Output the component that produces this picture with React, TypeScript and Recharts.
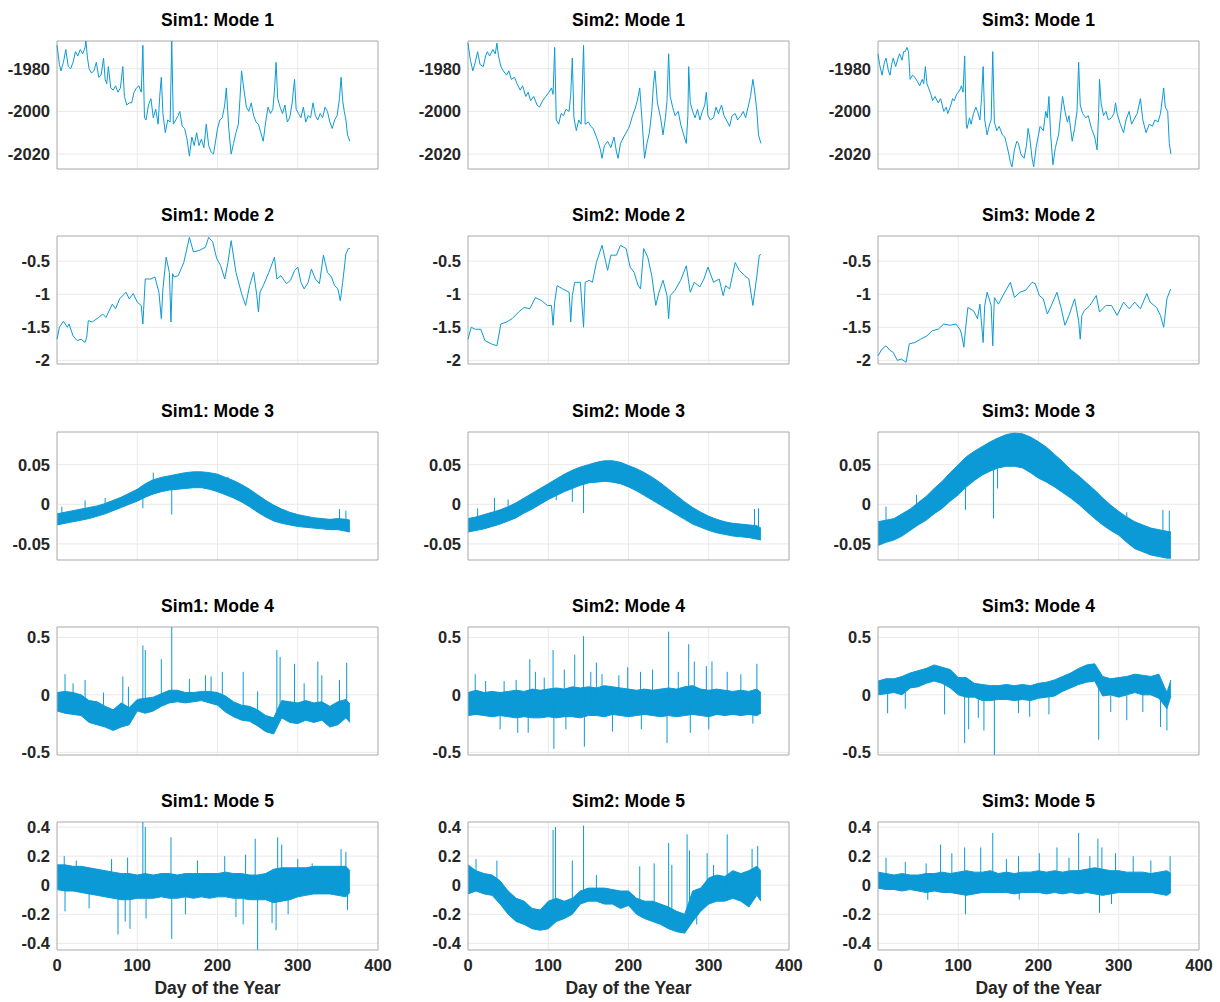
import React from 'react';
import { ComposedChart, Line, Area, XAxis, YAxis, CartesianGrid, ReferenceArea } from 'recharts';

// ---- data ----

// Mode 1 & 2: [day, value]
const s1m1 = [[0,-1969],[3,-1978],[5,-1981],[8,-1977],[11,-1971],[14,-1979],[17,-1980],[20,-1977],[23,-1972],[26,-1974],[29,-1971],[32,-1973],[35,-1970],[36,-1967],[38,-1975],[40,-1980],[43,-1982],[46,-1981],[49,-1977],[52,-1984],[55,-1983],[58,-1975],[60,-1985],[62,-1987],[64,-1979],[67,-1989],[70,-1990],[73,-1988],[76,-1991],[79,-1989],[82,-1979],[84,-1993],[87,-1997],[90,-1996],[93,-1996],[96,-1991],[99,-1989],[102,-1988],[105,-1991],[107,-1969],[109,-2003],[111,-2004],[114,-1997],[117,-1994],[120,-2003],[123,-1999],[126,-2006],[128,-1993],[130,-1984],[132,-2001],[135,-2010],[138,-2004],[141,-2005],[143,-1967],[145,-2006],[148,-2004],[151,-2002],[153,-2000],[156,-2007],[159,-2008],[162,-2013],[165,-2021],[168,-2012],[171,-2016],[174,-2010],[177,-2016],[180,-2013],[183,-2017],[186,-2006],[189,-2016],[192,-2019],[195,-2020],[198,-2013],[200,-2008],[203,-2004],[206,-2003],[209,-1997],[211,-1989],[214,-2008],[217,-2020],[220,-2015],[223,-2010],[226,-2006],[228,-1994],[230,-1981],[233,-1990],[236,-1998],[239,-2000],[242,-1996],[245,-2002],[248,-2005],[251,-2006],[254,-2010],[257,-2014],[260,-2005],[263,-1998],[266,-2001],[269,-1999],[271,-1990],[273,-1977],[275,-1994],[278,-1998],[281,-2001],[284,-1997],[287,-2005],[290,-2003],[293,-1996],[296,-1985],[298,-1999],[301,-2001],[304,-2003],[307,-1998],[310,-2005],[313,-2002],[316,-2003],[319,-1996],[322,-2002],[325,-2004],[328,-2001],[331,-2003],[334,-1998],[337,-2000],[340,-2005],[343,-2008],[346,-2004],[349,-2002],[352,-1994],[354,-1984],[356,-1995],[358,-2000],[360,-2004],[362,-2011],[365,-2014]];
const s2m1 = [[0,-1968],[3,-1976],[6,-1981],[9,-1977],[12,-1972],[15,-1978],[19,-1979],[22,-1974],[24,-1972],[27,-1974],[31,-1971],[34,-1973],[36,-1968],[38,-1974],[41,-1979],[44,-1981],[48,-1983],[51,-1981],[54,-1985],[58,-1984],[61,-1987],[65,-1990],[68,-1988],[72,-1993],[75,-1991],[78,-1995],[82,-1993],[86,-1997],[89,-1998],[93,-1995],[97,-1993],[101,-1991],[104,-1989],[106,-1992],[108,-1970],[110,-2004],[113,-2006],[116,-2001],[119,-2002],[122,-1999],[126,-2000],[128,-1992],[130,-1975],[132,-2003],[135,-2009],[138,-2004],[141,-2006],[144,-1969],[146,-2006],[150,-2005],[153,-2007],[156,-2008],[159,-2011],[162,-2014],[165,-2018],[167,-2022],[170,-2016],[174,-2014],[178,-2017],[182,-2012],[185,-2019],[187,-2022],[190,-2015],[194,-2012],[197,-2010],[200,-2008],[202,-2006],[205,-2002],[208,-1999],[211,-1995],[214,-1989],[217,-2005],[220,-2022],[223,-2015],[226,-2010],[229,-2000],[231,-1988],[233,-1981],[236,-1996],[240,-2003],[243,-2011],[246,-2003],[248,-1995],[250,-1973],[252,-1993],[255,-1998],[258,-2002],[262,-2000],[265,-2006],[268,-2010],[272,-2015],[274,-2002],[275,-1979],[277,-1996],[280,-2000],[283,-2003],[286,-1999],[289,-2004],[292,-2000],[295,-1997],[297,-1991],[299,-2002],[302,-2004],[306,-2003],[309,-1998],[312,-2001],[316,-1997],[319,-2002],[322,-2004],[326,-2007],[329,-2002],[333,-2001],[336,-2004],[340,-2002],[343,-2000],[346,-2003],[349,-1998],[352,-1993],[355,-1985],[357,-1990],[360,-2000],[362,-2011],[365,-2015]];
const s3m1 = [[0,-1973],[2,-1978],[5,-1983],[8,-1977],[10,-1975],[13,-1981],[15,-1983],[17,-1978],[19,-1975],[22,-1979],[25,-1975],[27,-1973],[30,-1976],[32,-1972],[34,-1972],[36,-1970],[38,-1972],[40,-1985],[43,-1983],[46,-1984],[49,-1986],[52,-1988],[55,-1985],[57,-1987],[59,-1979],[61,-1987],[63,-1989],[66,-1992],[68,-1995],[71,-1993],[75,-1996],[78,-1994],[82,-2000],[85,-1998],[87,-2001],[90,-1998],[93,-1994],[95,-1995],[98,-1992],[102,-1990],[104,-1988],[106,-1991],[108,-1974],[110,-2006],[111,-2008],[114,-2003],[116,-2006],[119,-2001],[122,-1998],[124,-2000],[127,-2004],[129,-1994],[131,-1979],[133,-2004],[136,-2011],[139,-2006],[141,-2004],[143,-1972],[145,-2005],[148,-2009],[151,-2007],[155,-2011],[158,-2012],[160,-2015],[163,-2020],[165,-2024],[167,-2026],[170,-2018],[173,-2014],[175,-2015],[178,-2020],[182,-2022],[185,-2016],[187,-2008],[189,-2012],[192,-2022],[194,-2026],[197,-2017],[199,-2013],[202,-2007],[206,-2009],[209,-2000],[211,-2003],[213,-1993],[215,-2010],[218,-2025],[221,-2017],[225,-2011],[228,-2000],[230,-1993],[233,-2000],[236,-2005],[238,-2002],[242,-2014],[245,-2008],[248,-2000],[250,-1977],[252,-1997],[255,-2001],[259,-2003],[262,-2002],[266,-2008],[270,-2012],[273,-2018],[275,-2000],[276,-1985],[278,-1996],[281,-2002],[284,-2000],[287,-2004],[291,-2003],[294,-2001],[296,-1996],[298,-2001],[302,-2006],[306,-2010],[309,-2004],[313,-2000],[316,-2006],[320,-2003],[323,-2001],[327,-1994],[330,-2004],[334,-2010],[338,-2006],[342,-2007],[345,-2004],[349,-2005],[352,-2001],[354,-1995],[356,-1989],[358,-1998],[361,-2000],[363,-2015],[365,-2020]];

const s1m2 = [[0,-1.68],[3,-1.5],[8,-1.41],[13,-1.5],[15,-1.45],[20,-1.63],[25,-1.7],[30,-1.68],[35,-1.73],[37,-1.65],[39,-1.4],[44,-1.42],[52,-1.35],[57,-1.3],[61,-1.35],[69,-1.15],[73,-1.22],[78,-1.07],[86,-0.97],[90,-1.07],[95,-0.99],[100,-1.12],[105,-1.17],[107,-1.45],[110,-0.77],[117,-0.77],[122,-0.74],[127,-0.97],[130,-1.37],[132,-0.92],[136,-0.44],[140,-0.67],[142,-1.42],[144,-0.69],[146,-0.74],[151,-0.72],[158,-0.52],[165,-0.14],[170,-0.36],[177,-0.34],[185,-0.29],[189,-0.14],[194,-0.21],[199,-0.46],[204,-0.57],[209,-0.77],[213,-0.52],[217,-0.19],[223,-0.67],[230,-0.99],[235,-1.17],[240,-0.87],[245,-0.67],[249,-1.02],[251,-1.27],[253,-0.97],[257,-0.87],[264,-0.67],[271,-0.44],[274,-0.77],[279,-0.72],[286,-0.84],[291,-0.79],[296,-0.64],[300,-0.59],[304,-0.82],[308,-0.92],[313,-0.82],[317,-0.62],[322,-0.77],[327,-0.84],[332,-0.41],[337,-0.67],[342,-0.74],[346,-0.87],[350,-0.92],[353,-1.1],[356,-0.82],[360,-0.39],[363,-0.31],[365,-0.31]];
const s2m2 = [[0,-1.68],[4,-1.5],[9,-1.53],[16,-1.53],[21,-1.7],[29,-1.75],[36,-1.78],[41,-1.45],[48,-1.42],[55,-1.37],[63,-1.27],[70,-1.2],[77,-1.22],[84,-1.05],[92,-1.1],[99,-1.17],[104,-1.17],[106,-1.47],[108,-1.12],[111,-0.87],[118,-0.92],[126,-0.97],[128,-1.42],[130,-1.02],[133,-0.82],[140,-0.82],[144,-1.5],[146,-0.82],[151,-0.79],[155,-0.82],[160,-0.52],[167,-0.26],[174,-0.64],[178,-0.41],[185,-0.41],[190,-0.26],[197,-0.31],[202,-0.59],[207,-0.67],[212,-0.87],[215,-0.92],[219,-0.31],[224,-0.44],[229,-0.72],[234,-1.17],[238,-0.97],[243,-0.79],[248,-1.02],[250,-1.37],[252,-1.02],[258,-0.94],[265,-0.79],[272,-0.57],[277,-0.97],[282,-0.82],[289,-0.89],[294,-0.77],[299,-0.59],[306,-0.82],[313,-0.77],[318,-1.02],[321,-0.87],[326,-0.92],[333,-0.52],[338,-0.64],[345,-0.72],[350,-0.77],[355,-1.17],[360,-0.72],[363,-0.41],[365,-0.4]];
const s3m2 = [[0,-1.93],[5,-1.83],[10,-1.78],[15,-1.85],[19,-1.88],[24,-2.0],[29,-1.98],[35,-2.03],[39,-1.75],[46,-1.73],[53,-1.68],[61,-1.63],[68,-1.55],[75,-1.53],[82,-1.45],[90,-1.47],[97,-1.45],[102,-1.53],[104,-1.6],[107,-1.8],[109,-1.53],[112,-1.2],[119,-1.25],[124,-1.37],[127,-1.15],[131,-1.73],[133,-1.17],[136,-0.97],[141,-1.17],[143,-1.78],[145,-1.05],[150,-1.15],[158,-0.97],[165,-0.82],[170,-1.05],[177,-0.97],[184,-0.94],[192,-0.82],[196,-0.84],[201,-1.02],[206,-1.07],[211,-1.3],[216,-1.17],[223,-0.97],[228,-1.2],[233,-1.47],[238,-1.32],[245,-1.07],[250,-1.4],[252,-1.68],[254,-1.32],[257,-1.25],[264,-1.17],[272,-1.02],[276,-1.27],[284,-1.17],[291,-1.17],[298,-1.32],[306,-1.12],[313,-1.22],[320,-1.12],[327,-1.22],[335,-0.99],[339,-1.12],[347,-1.2],[352,-1.32],[356,-1.5],[360,-1.07],[364,-0.94],[365,-0.92]];

// Modes 3-5: envelope of the dense traces, every 10 days
const bandDays = [0,10,20,30,40,50,60,70,80,90,100,110,120,130,140,150,160,170,180,190,200,210,220,230,240,250,260,270,280,290,300,310,320,330,340,350,360,365];

const s1m3Hi = [-0.012,-0.010,-0.008,-0.006,-0.004,-0.002,0.001,0.005,0.009,0.014,0.019,0.026,0.031,0.034,0.036,0.038,0.040,0.041,0.041,0.040,0.038,0.034,0.030,0.025,0.019,0.012,0.005,-0.001,-0.006,-0.010,-0.013,-0.015,-0.017,-0.018,-0.019,-0.018,-0.019,-0.020];
const s1m3Lo = [-0.026,-0.024,-0.022,-0.020,-0.018,-0.015,-0.012,-0.008,-0.004,0.000,0.004,0.009,0.013,0.016,0.018,0.019,0.020,0.021,0.021,0.019,0.016,0.012,0.008,0.003,-0.003,-0.010,-0.016,-0.021,-0.024,-0.026,-0.028,-0.029,-0.030,-0.031,-0.032,-0.032,-0.034,-0.035];
const s2m3Hi = [-0.018,-0.016,-0.013,-0.010,-0.007,-0.003,0.002,0.008,0.014,0.020,0.026,0.032,0.038,0.043,0.047,0.050,0.053,0.055,0.055,0.053,0.049,0.045,0.040,0.034,0.027,0.019,0.011,0.003,-0.004,-0.010,-0.015,-0.019,-0.022,-0.024,-0.025,-0.026,-0.027,-0.030];
const s2m3Lo = [-0.035,-0.033,-0.031,-0.028,-0.025,-0.021,-0.017,-0.011,-0.006,0.000,0.006,0.011,0.016,0.020,0.024,0.027,0.028,0.029,0.028,0.026,0.022,0.017,0.011,0.005,-0.001,-0.007,-0.013,-0.019,-0.025,-0.029,-0.033,-0.036,-0.038,-0.040,-0.041,-0.042,-0.044,-0.045];
const s3m3Hi = [-0.022,-0.020,-0.018,-0.012,-0.006,0.002,0.010,0.020,0.029,0.040,0.050,0.060,0.067,0.073,0.079,0.084,0.088,0.090,0.089,0.085,0.079,0.072,0.063,0.054,0.044,0.036,0.027,0.018,0.008,-0.001,-0.009,-0.016,-0.022,-0.026,-0.030,-0.032,-0.034,-0.035];
const s3m3Lo = [-0.052,-0.048,-0.045,-0.040,-0.033,-0.026,-0.020,-0.012,-0.005,0.004,0.012,0.022,0.030,0.037,0.042,0.046,0.048,0.048,0.046,0.040,0.033,0.028,0.022,0.015,0.008,0.000,-0.009,-0.018,-0.026,-0.033,-0.039,-0.048,-0.056,-0.060,-0.064,-0.066,-0.068,-0.068];

const s1m4Hi = [0.02,0.03,0.02,0.00,-0.05,-0.06,-0.10,-0.13,-0.07,-0.11,-0.04,-0.03,-0.02,0.01,0.04,0.04,0.02,0.02,0.03,0.03,0.02,-0.01,-0.06,-0.09,-0.10,-0.13,-0.18,-0.20,-0.05,-0.06,-0.07,-0.05,-0.07,-0.06,-0.10,-0.06,-0.04,-0.08];
const s1m4Lo = [-0.14,-0.16,-0.17,-0.18,-0.24,-0.26,-0.28,-0.31,-0.28,-0.26,-0.14,-0.16,-0.14,-0.10,-0.07,-0.06,-0.07,-0.06,-0.05,-0.07,-0.09,-0.15,-0.19,-0.22,-0.23,-0.27,-0.32,-0.34,-0.20,-0.24,-0.25,-0.22,-0.24,-0.22,-0.28,-0.26,-0.20,-0.24];
const s2m4Hi = [0.02,0.04,0.02,0.03,0.02,0.03,0.04,0.03,0.05,0.04,0.05,0.06,0.05,0.07,0.06,0.07,0.06,0.08,0.07,0.06,0.05,0.04,0.05,0.04,0.05,0.06,0.05,0.07,0.08,0.05,0.04,0.05,0.04,0.03,0.04,0.03,0.05,0.02];
const s2m4Lo = [-0.18,-0.17,-0.18,-0.19,-0.18,-0.19,-0.20,-0.19,-0.20,-0.20,-0.19,-0.20,-0.19,-0.19,-0.20,-0.18,-0.18,-0.19,-0.17,-0.18,-0.19,-0.18,-0.17,-0.18,-0.19,-0.18,-0.19,-0.18,-0.17,-0.18,-0.19,-0.17,-0.18,-0.17,-0.18,-0.17,-0.18,-0.16];
const s3m4Hi = [0.12,0.14,0.14,0.16,0.19,0.21,0.23,0.26,0.24,0.22,0.15,0.15,0.10,0.09,0.08,0.08,0.09,0.08,0.09,0.08,0.10,0.11,0.13,0.16,0.19,0.23,0.26,0.27,0.16,0.14,0.15,0.16,0.18,0.17,0.16,0.18,0.02,0.13];
const s3m4Lo = [0.00,0.01,0.02,0.00,0.06,0.07,0.10,0.12,0.10,0.06,0.00,-0.02,-0.02,-0.05,-0.05,-0.04,-0.04,-0.05,-0.04,-0.05,-0.03,-0.02,-0.01,0.03,0.06,0.09,0.11,0.12,-0.01,0.00,-0.02,0.00,0.02,0.00,0.00,-0.03,-0.12,-0.01];

const s1m5Hi = [0.14,0.14,0.13,0.13,0.12,0.11,0.10,0.09,0.08,0.08,0.07,0.08,0.07,0.08,0.08,0.07,0.08,0.08,0.08,0.08,0.08,0.09,0.08,0.08,0.07,0.07,0.08,0.11,0.12,0.12,0.12,0.12,0.13,0.13,0.13,0.13,0.13,0.10];
const s1m5Lo = [-0.03,-0.04,-0.04,-0.05,-0.06,-0.07,-0.08,-0.09,-0.10,-0.10,-0.09,-0.09,-0.09,-0.08,-0.09,-0.09,-0.08,-0.09,-0.08,-0.09,-0.08,-0.08,-0.09,-0.09,-0.10,-0.10,-0.10,-0.12,-0.11,-0.10,-0.08,-0.07,-0.06,-0.06,-0.06,-0.07,-0.08,-0.05];
const s2m5Hi = [0.14,0.10,0.08,0.07,0.03,-0.04,-0.09,-0.11,-0.16,-0.17,-0.11,-0.09,-0.11,-0.09,-0.04,-0.02,-0.02,-0.02,-0.03,-0.04,-0.04,-0.09,-0.11,-0.11,-0.13,-0.15,-0.18,-0.20,-0.04,-0.02,0.05,0.07,0.06,0.10,0.08,0.10,0.13,0.10];
const s2m5Lo = [-0.06,-0.04,-0.06,-0.07,-0.13,-0.20,-0.25,-0.27,-0.30,-0.31,-0.30,-0.25,-0.23,-0.20,-0.13,-0.11,-0.11,-0.13,-0.13,-0.16,-0.14,-0.20,-0.23,-0.25,-0.27,-0.30,-0.32,-0.33,-0.25,-0.18,-0.13,-0.11,-0.11,-0.09,-0.11,-0.15,-0.07,-0.11];
const s3m5Hi = [0.09,0.08,0.07,0.08,0.07,0.07,0.08,0.08,0.09,0.08,0.09,0.10,0.09,0.09,0.10,0.08,0.09,0.08,0.09,0.09,0.10,0.09,0.10,0.09,0.10,0.10,0.11,0.12,0.11,0.10,0.10,0.09,0.09,0.09,0.08,0.09,0.10,0.08];
const s3m5Lo = [-0.02,-0.03,-0.03,-0.04,-0.03,-0.04,-0.05,-0.04,-0.05,-0.05,-0.06,-0.07,-0.06,-0.05,-0.05,-0.05,-0.05,-0.06,-0.05,-0.05,-0.05,-0.06,-0.05,-0.06,-0.05,-0.06,-0.05,-0.06,-0.07,-0.06,-0.05,-0.05,-0.05,-0.05,-0.05,-0.06,-0.07,-0.05];

// isolated spikes: [day, from, to]
const s1m3Spikes = [[6,-0.018,-0.003],[35,-0.012,0.005],[60,-0.005,0.008],[107,0.012,-0.005],[120,0.02,0.04],[143,0.025,-0.013],[213,0.02,0.035],[276,-0.018,-0.004],[352,-0.025,-0.006],[360,-0.026,-0.008]];
const s2m3Spikes = [[12,-0.025,-0.005],[33,-0.02,0.008],[50,-0.012,0.006],[110,0.02,0.005],[130,0.03,0.003],[144,0.035,-0.011],[357,-0.035,-0.006],[362,-0.036,-0.005]];
const s3m3Spikes = [[10,-0.035,-0.003],[48,-0.015,0.012],[109,0.03,-0.007],[144,0.055,-0.018],[149,0.055,0.02],[310,-0.03,-0.01],[355,-0.05,-0.007],[363,-0.052,-0.008]];
const s1m4Spikes = [[10,-0.05,0.18],[20,-0.06,0.1],[35,-0.07,0.13],[58,-0.15,0.02],[82,-0.15,0.16],[89,-0.17,0.07],[107,-0.08,0.43],[110,-0.08,0.39],[130,-0.05,0.31],[143,-0.02,0.59],[165,-0.03,0.14],[185,-0.02,0.17],[192,-0.02,0.16],[206,-0.05,0.2],[232,-0.14,0.2],[250,-0.18,0.03],[274,-0.2,0.39],[278,-0.15,0.33],[296,-0.15,0.27],[308,-0.12,0.1],[325,-0.14,0.29],[330,-0.15,0.17],[352,-0.15,0.13],[361,-0.12,0.28]];
const s2m4Spikes = [[9,-0.06,0.18],[22,-0.06,0.12],[40,-0.07,-0.3],[45,-0.06,0.12],[60,-0.06,0.13],[62,-0.08,-0.33],[75,-0.08,-0.33],[77,-0.06,0.31],[84,-0.06,0.2],[95,-0.06,0.15],[106,-0.06,0.39],[107,-0.08,-0.47],[120,-0.06,0.22],[122,-0.08,-0.3],[133,-0.06,0.35],[144,-0.06,0.51],[145,-0.08,-0.45],[153,-0.06,0.2],[160,-0.06,0.28],[167,-0.06,0.18],[180,-0.08,-0.32],[188,-0.06,0.17],[199,-0.06,0.24],[215,-0.06,0.2],[216,-0.08,-0.3],[230,-0.06,0.22],[248,-0.08,-0.42],[250,-0.06,0.55],[262,-0.06,0.2],[275,-0.06,0.44],[277,-0.08,-0.33],[282,-0.06,0.29],[297,-0.06,0.25],[300,-0.08,-0.3],[304,-0.06,0.29],[323,-0.06,0.2],[340,-0.06,0.18],[355,-0.08,-0.25],[360,-0.06,0.27]];
const s3m4Spikes = [[12,0.05,-0.16],[34,0.05,-0.12],[83,0.12,-0.17],[108,0.08,-0.42],[113,0.05,-0.3],[125,0.03,-0.2],[132,0.03,-0.31],[145,0.02,-0.53],[175,0.02,-0.16],[189,0.02,-0.19],[213,0.05,-0.17],[275,0.15,-0.39],[290,0.05,-0.15],[310,0.05,-0.22],[330,0.05,-0.15],[352,0.05,-0.28],[360,-0.05,-0.31]];
const s1m5Spikes = [[9,0.02,0.2],[10,0,-0.18],[24,0.02,0.17],[40,0,-0.16],[68,0,0.18],[76,0,-0.34],[85,0,-0.25],[88,0,0.19],[91,0,-0.3],[107,0,0.44],[110,0,0.4],[111,0,-0.23],[142,0,0.33],[143,0,-0.37],[160,0,-0.2],[175,0,0.17],[209,0,0.2],[223,0,-0.22],[232,0,-0.27],[235,0,0.21],[247,0,0.32],[250,0,-0.45],[268,0,-0.26],[273,0,-0.31],[275,0,0.33],[280,0,0.28],[288,0,-0.2],[300,0.02,0.18],[318,0.02,0.15],[354,0.02,0.25],[360,0.02,0.23],[362,0,-0.17]];
const s2m5Spikes = [[10,0.02,0.18],[36,-0.03,0.17],[106,-0.2,0.38],[109,-0.2,0.4],[130,-0.15,0.17],[144,-0.1,0.41],[160,-0.07,0.07],[214,-0.15,0.13],[232,-0.18,0.15],[250,-0.22,0.29],[254,-0.22,0.14],[273,-0.28,0.35],[276,-0.25,0.24],[285,-0.15,-0.27],[298,-0.05,0.22],[306,-0.05,0.14],[323,-0.02,0.35],[354,0,0.25],[361,0,0.27]];
const s3m5Spikes = [[10,0.02,0.19],[34,0.02,0.16],[60,0.02,0.15],[62,0,-0.1],[78,0.02,0.28],[92,0.02,0.22],[108,0.02,0.26],[109,0,-0.2],[128,0.02,0.26],[143,0.02,0.36],[160,0.02,0.18],[175,0.02,0.2],[176,0,-0.1],[201,0.02,0.22],[223,0.02,0.26],[238,0.02,0.19],[250,0.02,0.36],[264,0.02,0.2],[274,0.02,0.32],[276,0,-0.19],[279,0.02,0.26],[291,0,-0.13],[296,0.02,0.22],[318,0.02,0.2],[340,0.02,0.17],[364,0.02,0.2]];

// y limits / ticks per row (shared across the three sims)
const rowDomains: [number, number][] = [[-2027, -1967], [-2.055, -0.12], [-0.0703, 0.0913], [-0.523, 0.59], [-0.446, 0.435]];
const rowTicks = [[-2020, -2000, -1980], [-2, -1.5, -1, -0.5], [-0.05, 0, 0.05], [-0.5, 0, 0.5], [-0.4, -0.2, 0, 0.2, 0.4]];
const xTicks = [0, 100, 200, 300, 400];

// ---- layout ----
const BLUE = '#0b9ad6';
const FONT = '"Liberation Sans", Arial, Helvetica, sans-serif';
const COL_X = [57, 468, 878];
const ROW_Y = [41, 236, 432, 627, 822];
const PLOT_W = 321;
const PLOT_H = 128;
const AXIS_W = 57;
const PAD = 12; // room so edge tick labels are not clipped

const toLine = (pts: number[][]) => pts.map(([d, v]) => ({ d, v }));
const toBand = (lo: number[], hi: number[]) => bandDays.map((d, i) => ({ d, band: [lo[i], hi[i]] }));
const toSpikes = (sp: number[][]) => sp.flatMap(([d, a, b]) => [{ d, s: a }, { d, s: b }, { d, s: null }]);

const tickStyle = { fontSize: 16.5, fontWeight: 700, fill: '#262626', fontFamily: FONT };

type PanelDef = {
  sim: number;
  mode: number;
  line?: number[][];
  lo?: number[];
  hi?: number[];
  spikes?: number[][];
};

const panels: PanelDef[] = [
  { sim: 1, mode: 1, line: s1m1 },
  { sim: 2, mode: 1, line: s2m1 },
  { sim: 3, mode: 1, line: s3m1 },
  { sim: 1, mode: 2, line: s1m2 },
  { sim: 2, mode: 2, line: s2m2 },
  { sim: 3, mode: 2, line: s3m2 },
  { sim: 1, mode: 3, lo: s1m3Lo, hi: s1m3Hi, spikes: s1m3Spikes },
  { sim: 2, mode: 3, lo: s2m3Lo, hi: s2m3Hi, spikes: s2m3Spikes },
  { sim: 3, mode: 3, lo: s3m3Lo, hi: s3m3Hi, spikes: s3m3Spikes },
  { sim: 1, mode: 4, lo: s1m4Lo, hi: s1m4Hi, spikes: s1m4Spikes },
  { sim: 2, mode: 4, lo: s2m4Lo, hi: s2m4Hi, spikes: s2m4Spikes },
  { sim: 3, mode: 4, lo: s3m4Lo, hi: s3m4Hi, spikes: s3m4Spikes },
  { sim: 1, mode: 5, lo: s1m5Lo, hi: s1m5Hi, spikes: s1m5Spikes },
  { sim: 2, mode: 5, lo: s2m5Lo, hi: s2m5Hi, spikes: s2m5Spikes },
  { sim: 3, mode: 5, lo: s3m5Lo, hi: s3m5Hi, spikes: s3m5Spikes },
];

const Panel: React.FC<{ def: PanelDef }> = ({ def }) => {
  const row = def.mode - 1;
  const col = def.sim - 1;
  const left = COL_X[col];
  const top = ROW_Y[row];
  const bottom = row === 4;
  const domain = rowDomains[row];
  const data = def.line ? toLine(def.line) : toBand(def.lo!, def.hi!);

  return (
    <>
      <div
        style={{
          position: 'absolute', left, top: top - 31, width: PLOT_W, textAlign: 'center',
          fontFamily: FONT, fontWeight: 700, fontSize: 17.5, lineHeight: '20px', color: '#000',
        }}
      >
        {`Sim${def.sim}: Mode ${def.mode}`}
      </div>
      <div style={{ position: 'absolute', left: left - AXIS_W, top: top - PAD }}>
        <ComposedChart
          width={AXIS_W + PLOT_W + 2 * PAD}
          height={PLOT_H + PAD + (bottom ? 50 : PAD)}
          data={data}
          margin={{ top: PAD, right: 2 * PAD, bottom: bottom ? 0 : PAD, left: 0 }}
        >
          <CartesianGrid stroke="#e9e9e9" verticalValues={[100, 200, 300]} horizontalValues={rowTicks[row]} />
          <XAxis
            type="number" dataKey="d" domain={[0, 400]} ticks={xTicks} interval={0}
            hide={!bottom} height={50} axisLine={false} tickLine={false}
            tickSize={0} tickMargin={9} tick={tickStyle}
          />
          <YAxis
            type="number" domain={domain} ticks={rowTicks[row]} interval={0} allowDataOverflow
            width={AXIS_W} axisLine={false} tickLine={false} tickSize={0} tickMargin={7} tick={tickStyle}
          />
          {def.line ? (
            <Line type="linear" dataKey="v" stroke={BLUE} strokeWidth={1} dot={false} isAnimationActive={false} />
          ) : (
            <Area type="linear" dataKey="band" stroke={BLUE} strokeWidth={1} fill={BLUE} fillOpacity={1} isAnimationActive={false} />
          )}
          {def.spikes && (
            <Line
              data={toSpikes(def.spikes)} type="linear" dataKey="s" stroke={BLUE} strokeWidth={1}
              dot={false} connectNulls={false} isAnimationActive={false}
            />
          )}
          <ReferenceArea x1={0} x2={400} y1={domain[0]} y2={domain[1]} fill="none" stroke="#a8a8a8" strokeWidth={1} />
        </ComposedChart>
      </div>
      {bottom && (
        <div
          style={{
            position: 'absolute', left, top: top + PLOT_H + 28, width: PLOT_W, textAlign: 'center',
            fontFamily: FONT, fontWeight: 700, fontSize: 17.5, lineHeight: '20px', color: '#262626',
          }}
        >
          Day of the Year
        </div>
      )}
    </>
  );
};

export default function App() {
  return (
    <div style={{ position: 'absolute', left: 0, top: 0, width: 1220, height: 1002, background: '#fff' }}>
      {panels.map((p) => (
        <Panel key={`${p.sim}-${p.mode}`} def={p} />
      ))}
    </div>
  );
}
